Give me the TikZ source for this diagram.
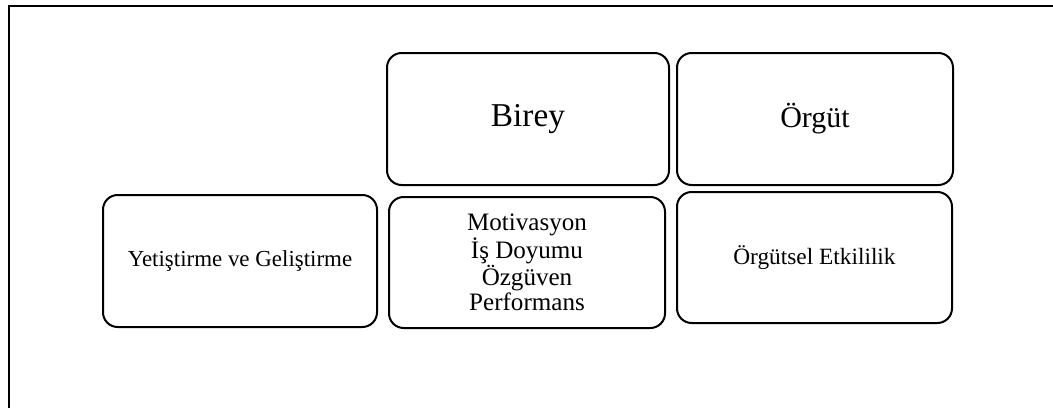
\documentclass[tikz,border=0pt]{standalone}
\usepackage{fontspec}
\setmainfont{Liberation Serif}
\begin{document}
\begin{tikzpicture}[x=0.75pt,y=-0.75pt,
  box/.style={draw=black,line width=1.5pt,rounded corners=11pt,fill=white,inner sep=0pt,align=center},
  frame/.style={draw=black,line width=1.6pt}]
\useasboundingbox (0,0) rectangle (1053,408);
\coordinate (ftr) at (1053,6);
\coordinate (ftl) at (9,6);
\coordinate (fbl) at (9,408);
\draw[frame] (ftr) -- (ftl) -- (fbl);
\node[box,minimum width=211.5pt,minimum height=99pt,font=\fontsize{25}{29}\selectfont] (birey) at (528,119) {Birey};
\node[box,minimum width=207pt,minimum height=99pt,font=\fontsize{22.5}{27}\selectfont] (orgut) at (815,119) {Örgüt};
\node[box,minimum width=205.5pt,minimum height=99pt,font=\fontsize{17.2}{20}\selectfont] (yetis) at (240,261) {Yetiştirme ve Geliştirme};
\node[box,minimum width=207pt,minimum height=98.25pt,font=\fontsize{18.8}{19}\selectfont] (motiv) at (527,262.5) {Motivasyon\\İş Doyumu\\Özgüven\\Performans};
\node[box,minimum width=206.25pt,minimum height=98.25pt,font=\fontsize{17.5}{20}\selectfont] (etki) at (814.5,257.5) {Örgütsel Etkililik};
\end{tikzpicture}
\end{document}
